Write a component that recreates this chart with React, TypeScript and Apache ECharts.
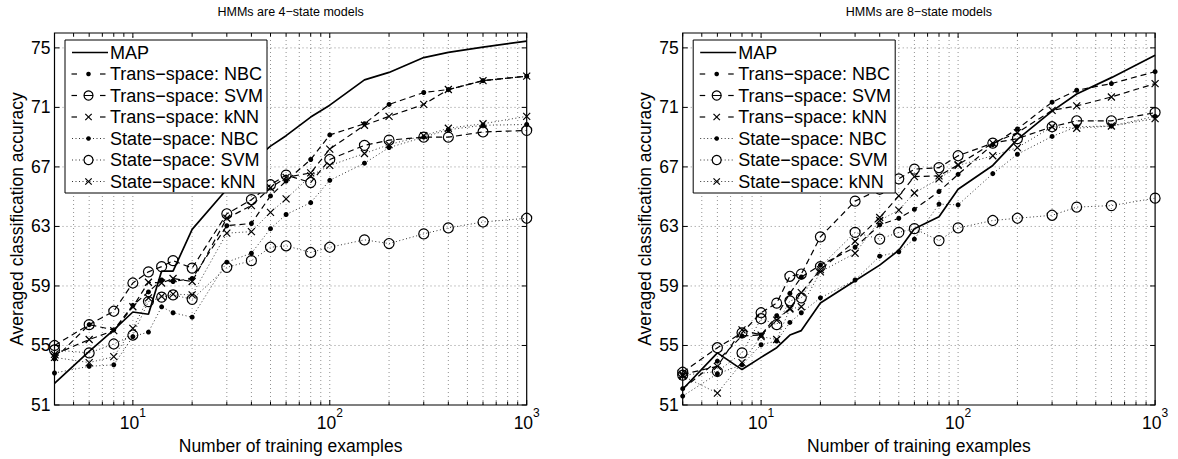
import React, { useEffect, useRef } from 'react';
import * as echarts from 'echarts';

const FONT = '"Liberation Sans", Arial, Helvetica, sans-serif';
const X_MIN = 4;
const X_MAX = 1000;
const Y_MIN = 51;
const Y_MAX = 76;

// number of training examples (x values)
const trainingSizes = [4, 6, 8, 10, 12, 14, 16, 20, 30, 40, 50, 60, 80, 100, 150, 200, 300, 400, 600, 1000];

// tick / grid values
const yTicks = [51, 55, 59, 63, 67, 71, 75];
const xTickMarks = [4, 5, 6, 7, 8, 9, 10, 20, 30, 40, 50, 60, 70, 80, 90, 100, 200, 300, 400, 500, 600, 700, 800, 900, 1000];
const xMajorTicks = [10, 100, 1000];

const seriesNames = [
  'MAP',
  'Trans\u2212space: NBC',
  'Trans\u2212space: SVM',
  'Trans\u2212space: kNN',
  'State\u2212space: NBC',
  'State\u2212space: SVM',
  'State\u2212space: kNN',
];

// ---- HMMs are 4-state models ----
const map4 = [52.45, 54.6, 56.05, 57.25, 57.1, 60.0, 60.0, 62.8, 65.5, 67.3, 68.4, 69.1, 70.35, 71.15, 72.85, 73.35, 74.35, 74.7, 75.05, 75.45];
const transNbc4 = [54.1, 56.4, 56.05, 57.7, 58.6, 59.4, 59.3, 59.5, 63.05, 63.2, 65.05, 66.05, 67.5, 69.15, 69.9, 71.2, 72.0, 72.2, 72.8, 73.1];
const transSvm4 = [55.0, 56.4, 57.3, 59.2, 59.95, 60.3, 60.7, 60.2, 63.85, 64.8, 65.8, 66.45, 65.95, 67.5, 68.45, 68.8, 69.0, 69.0, 69.35, 69.45];
const transKnn4 = [54.4, 55.4, 56.0, 57.6, 59.25, 59.2, 59.5, 59.3, 63.55, 64.4, 65.6, 66.3, 66.6, 68.2, 69.8, 70.4, 71.2, 72.2, 72.8, 73.1];
const stateNbc4 = [53.15, 53.6, 53.7, 55.6, 55.9, 57.6, 57.2, 56.9, 60.6, 61.2, 62.85, 63.8, 64.6, 66.1, 67.25, 68.3, 69.0, 69.5, 69.8, 69.85];
const stateSvm4 = [54.7, 54.5, 55.1, 55.7, 57.95, 58.25, 58.4, 58.1, 60.25, 60.7, 61.6, 61.7, 61.25, 61.6, 62.1, 61.85, 62.5, 62.9, 63.3, 63.55];
const stateKnn4 = [54.2, 53.85, 54.25, 56.15, 58.2, 58.3, 58.45, 58.4, 62.55, 62.65, 63.95, 64.85, 66.4, 67.1, 67.9, 68.5, 69.1, 69.6, 69.9, 70.4];

// ---- HMMs are 8-state models ----
const map8 = [52.06, 54.5, 53.38, 54.2, 54.85, 55.7, 56.0, 57.85, 59.35, 60.4, 61.4, 62.85, 63.65, 65.5, 67.1, 68.85, 70.75, 71.9, 73.0, 74.5];
const transNbc8 = [52.1, 53.95, 55.65, 55.7, 57.0, 58.5, 59.6, 60.4, 61.6, 63.1, 63.55, 64.15, 65.35, 66.5, 68.5, 69.55, 71.35, 72.15, 72.6, 73.4];
const transSvm8 = [53.2, 54.85, 55.85, 57.2, 57.85, 59.65, 59.8, 62.3, 64.7, 65.5, 66.2, 66.85, 66.95, 67.75, 68.6, 68.9, 69.7, 70.1, 70.1, 70.65];
const transKnn8 = [53.05, 53.6, 56.05, 55.7, 56.7, 57.5, 58.55, 60.1, 62.0, 63.6, 65.05, 66.35, 66.4, 67.15, 68.6, 69.3, 70.8, 71.1, 71.7, 72.6];
const stateNbc8 = [51.6, 53.1, 53.7, 55.05, 55.3, 56.55, 57.2, 58.2, 59.4, 61.0, 61.3, 62.15, 64.5, 64.45, 66.55, 67.85, 69.05, 69.7, 69.75, 70.4];
const stateSvm8 = [53.0, 53.25, 54.5, 56.8, 56.4, 58.0, 58.2, 60.3, 62.6, 62.15, 62.6, 62.85, 62.05, 62.9, 63.4, 63.55, 63.75, 64.3, 64.4, 64.9];
const stateKnn8 = [52.95, 51.8, 53.85, 55.6, 55.4, 57.45, 57.6, 59.95, 61.2, 63.4, 64.1, 65.25, 66.2, 67.1, 67.75, 68.3, 69.7, 69.6, 69.75, 70.25];

const panelTitles = ['HMMs are 4\u2212state models', 'HMMs are 8\u2212state models'];
const panelValues = [
  [map4, transNbc4, transSvm4, transKnn4, stateNbc4, stateSvm4, stateKnn4],
  [map8, transNbc8, transSvm8, transKnn8, stateNbc8, stateSvm8, stateKnn8],
];

const lineKinds = ['solid', 'dashed', 'dashed', 'dashed', 'dotted', 'dotted', 'dotted'];
const markerKinds = ['none', 'dot', 'circle', 'cross', 'dot', 'circle', 'cross'];

const CROSS = 'path://M0,0L10,10M10,0L0,10';

// layout
const GRIDS = [
  { left: 54.5, top: 33, width: 472.2, height: 372 },
  { left: 682.7, top: 33, width: 472.4, height: 372 },
];
const TICK_MAJOR = 5;
const TICK_MINOR = 3.5;

function lineStyleFor(kind: string) {
  if (kind === 'solid') return { color: '#000', width: 1.7, type: 'solid' as any };
  if (kind === 'dashed') return { color: '#000', width: 1.2, type: [6, 4] as any };
  return { color: '#333', width: 1, type: [1, 2.5] as any };
}

function markerFor(kind: string) {
  if (kind === 'dot') return { symbol: 'circle', symbolSize: 5, itemStyle: { color: '#000', borderWidth: 0 } };
  if (kind === 'circle')
    return { symbol: 'circle', symbolSize: 10, itemStyle: { color: 'rgba(0,0,0,0)', borderColor: '#000', borderWidth: 1.2 } };
  if (kind === 'cross')
    return { symbol: CROSS, symbolSize: 7, itemStyle: { color: 'rgba(0,0,0,0)', borderColor: '#000', borderWidth: 1.2 } };
  return { symbol: 'none', symbolSize: 0, itemStyle: { color: '#000' } };
}

function legendGraphics(boxLeft: number, boxTop: number) {
  const els: any[] = [];
  els.push({
    type: 'rect',
    z: 50,
    shape: { x: boxLeft, y: boxTop, width: 202, height: 153 },
    style: { fill: '#fff', stroke: '#000', lineWidth: 1 },
  });
  seriesNames.forEach((name, i) => {
    const cy = boxTop + 12.5 + i * 21.5;
    const kind = lineKinds[i];
    const mx = boxLeft + 23.5;
    if (kind === 'solid') {
      els.push({ type: 'line', z: 51, shape: { x1: boxLeft + 7, y1: cy, x2: boxLeft + 43, y2: cy }, style: { stroke: '#000', lineWidth: 1.7 } });
    } else if (kind === 'dashed') {
      els.push({ type: 'line', z: 51, shape: { x1: boxLeft + 6.5, y1: cy, x2: boxLeft + 12, y2: cy }, style: { stroke: '#000', lineWidth: 1.2 } });
      els.push({ type: 'line', z: 51, shape: { x1: boxLeft + 35, y1: cy, x2: boxLeft + 40.5, y2: cy }, style: { stroke: '#000', lineWidth: 1.2 } });
    } else {
      els.push({ type: 'line', z: 51, shape: { x1: boxLeft + 7, y1: cy, x2: boxLeft + 41, y2: cy }, style: { stroke: '#333', lineWidth: 1, lineDash: [1, 2.5] } });
    }
    const mk = markerKinds[i];
    if (mk === 'dot') {
      els.push({ type: 'circle', z: 52, shape: { cx: mx, cy, r: 2.3 }, style: { fill: '#000' } });
    } else if (mk === 'circle') {
      els.push({ type: 'circle', z: 52, shape: { cx: mx, cy, r: 4.5 }, style: { fill: '#fff', stroke: '#000', lineWidth: 1.2 } });
      if (kind === 'dashed') {
        els.push({ type: 'line', z: 53, shape: { x1: mx - 4.5, y1: cy, x2: mx + 4.5, y2: cy }, style: { stroke: '#000', lineWidth: 1 } });
      }
    } else if (mk === 'cross') {
      els.push({ type: 'line', z: 52, shape: { x1: mx - 3.2, y1: cy - 3.2, x2: mx + 3.2, y2: cy + 3.2 }, style: { stroke: '#000', lineWidth: 1.2 } });
      els.push({ type: 'line', z: 52, shape: { x1: mx - 3.2, y1: cy + 3.2, x2: mx + 3.2, y2: cy - 3.2 }, style: { stroke: '#000', lineWidth: 1.2 } });
    }
    els.push({
      type: 'text',
      z: 52,
      x: boxLeft + 45,
      y: cy,
      style: { text: name, fontSize: 18, fontFamily: FONT, fill: '#000', verticalAlign: 'middle', align: 'left' },
    });
  });
  return els;
}

const gridLineStyle = { stroke: '#000', lineWidth: 0.8, lineDash: [1, 3], opacity: 0.55 };
const tickStyle = { stroke: '#000', lineWidth: 1 };

function buildOption() {
  const series: any[] = [];
  const xAxis: any[] = [];
  const yAxis: any[] = [];
  const graphic: any[] = [];

  GRIDS.forEach((g, gi) => {
    xAxis.push({
      type: 'log',
      logBase: 10,
      gridIndex: gi,
      min: X_MIN,
      max: X_MAX,
      axisLine: { show: false },
      axisTick: { show: false },
      minorTick: { show: false },
      splitLine: { show: false },
      axisLabel: {
        showMinLabel: false,
        margin: 2,
        color: '#000',
        fontSize: 17.5,
        fontFamily: FONT,
        formatter: (v: number) => {
          const p = Math.round(Math.log10(v));
          return `{b|10}{s|${p}}`;
        },
        rich: {
          b: { fontSize: 17.5, fontFamily: FONT, color: '#000', verticalAlign: 'bottom' },
          s: { fontSize: 12, fontFamily: FONT, color: '#000', verticalAlign: 'bottom', padding: [0, 0, 13, 0] },
        },
      },
      name: 'Number of training examples',
      nameLocation: 'middle',
      nameGap: 27,
      nameTextStyle: { color: '#000', fontSize: 17.5, fontFamily: FONT },
    });
    yAxis.push({
      type: 'value',
      gridIndex: gi,
      min: Y_MIN,
      max: Y_MAX,
      axisLine: { show: false },
      axisTick: { show: false },
      splitLine: { show: false },
      axisLabel: { customValues: yTicks, margin: 4, color: '#000', fontSize: 17.5, fontFamily: FONT },
      name: 'Averaged classification accuracy',
      nameLocation: 'middle',
      nameGap: 29,
      nameTextStyle: { color: '#000', fontSize: 17.5, fontFamily: FONT },
    });

    // vertical grid lines and x ticks
    series.push({
      type: 'custom',
      xAxisIndex: gi,
      yAxisIndex: gi,
      silent: true,
      z: 1,
      data: xTickMarks.map((v) => [v, Y_MIN]),
      renderItem: (params: any, api: any) => {
        const v = api.value(0);
        const b = api.coord([v, Y_MIN]);
        const t = api.coord([v, Y_MAX]);
        const len = xMajorTicks.indexOf(v) >= 0 ? TICK_MAJOR : TICK_MINOR;
        const children: any[] = [];
        if (v > X_MIN && v < X_MAX) {
          children.push({ type: 'line', shape: { x1: b[0], y1: b[1], x2: t[0], y2: t[1] }, style: gridLineStyle });
        }
        children.push({ type: 'line', shape: { x1: b[0], y1: b[1], x2: b[0], y2: b[1] - len }, style: tickStyle });
        children.push({ type: 'line', shape: { x1: t[0], y1: t[1], x2: t[0], y2: t[1] + len }, style: tickStyle });
        return { type: 'group', children };
      },
    });
    // horizontal grid lines and y ticks
    series.push({
      type: 'custom',
      xAxisIndex: gi,
      yAxisIndex: gi,
      silent: true,
      z: 1,
      data: yTicks.map((v) => [X_MIN, v]),
      renderItem: (params: any, api: any) => {
        const v = api.value(1);
        const l = api.coord([X_MIN, v]);
        const r = api.coord([X_MAX, v]);
        const children: any[] = [];
        if (v > Y_MIN && v < Y_MAX) {
          children.push({ type: 'line', shape: { x1: l[0], y1: l[1], x2: r[0], y2: r[1] }, style: gridLineStyle });
        }
        children.push({ type: 'line', shape: { x1: l[0], y1: l[1], x2: l[0] + TICK_MAJOR, y2: l[1] }, style: tickStyle });
        children.push({ type: 'line', shape: { x1: r[0], y1: r[1], x2: r[0] - TICK_MAJOR, y2: r[1] }, style: tickStyle });
        return { type: 'group', children };
      },
    });

    panelValues[gi].forEach((vals, si) => {
      const mk = markerFor(markerKinds[si]);
      series.push({
        type: 'line',
        name: seriesNames[si],
        xAxisIndex: gi,
        yAxisIndex: gi,
        data: trainingSizes.map((x, i) => [x, vals[i]]),
        symbol: mk.symbol,
        symbolSize: mk.symbolSize,
        showSymbol: mk.symbol !== 'none',
        itemStyle: mk.itemStyle,
        lineStyle: lineStyleFor(lineKinds[si]),
        silent: true,
        z: 3 + (si === 0 ? 1 : 0),
        emphasis: { disabled: true },
      });
    });

    graphic.push({
      type: 'text',
      z: 50,
      x: g.left + g.width / 2,
      y: 12,
      style: { text: panelTitles[gi], fontSize: 12.5, fontFamily: FONT, fill: '#000', align: 'center', verticalAlign: 'middle' },
    });
    graphic.push(...legendGraphics(g.left + 10.5, 40));
  });

  return {
    animation: false,
    backgroundColor: '#fff',
    grid: GRIDS.map((g) => ({
      left: g.left,
      top: g.top,
      width: g.width,
      height: g.height,
      show: true,
      borderColor: '#000',
      borderWidth: 1.2,
      backgroundColor: 'transparent',
      containLabel: false,
      outerBoundsMode: 'none',
    })),
    xAxis,
    yAxis,
    series,
    graphic,
  };
}

export default function App() {
  const ref = useRef<HTMLDivElement>(null);
  useEffect(() => {
    if (!ref.current) return;
    const chart = echarts.init(ref.current, null, { renderer: 'svg' });
    chart.setOption(buildOption() as any);
    return () => chart.dispose();
  }, []);
  return <div ref={ref} style={{ position: 'fixed', left: 0, top: 0, width: 1178, height: 459, background: '#fff' }} />;
}
